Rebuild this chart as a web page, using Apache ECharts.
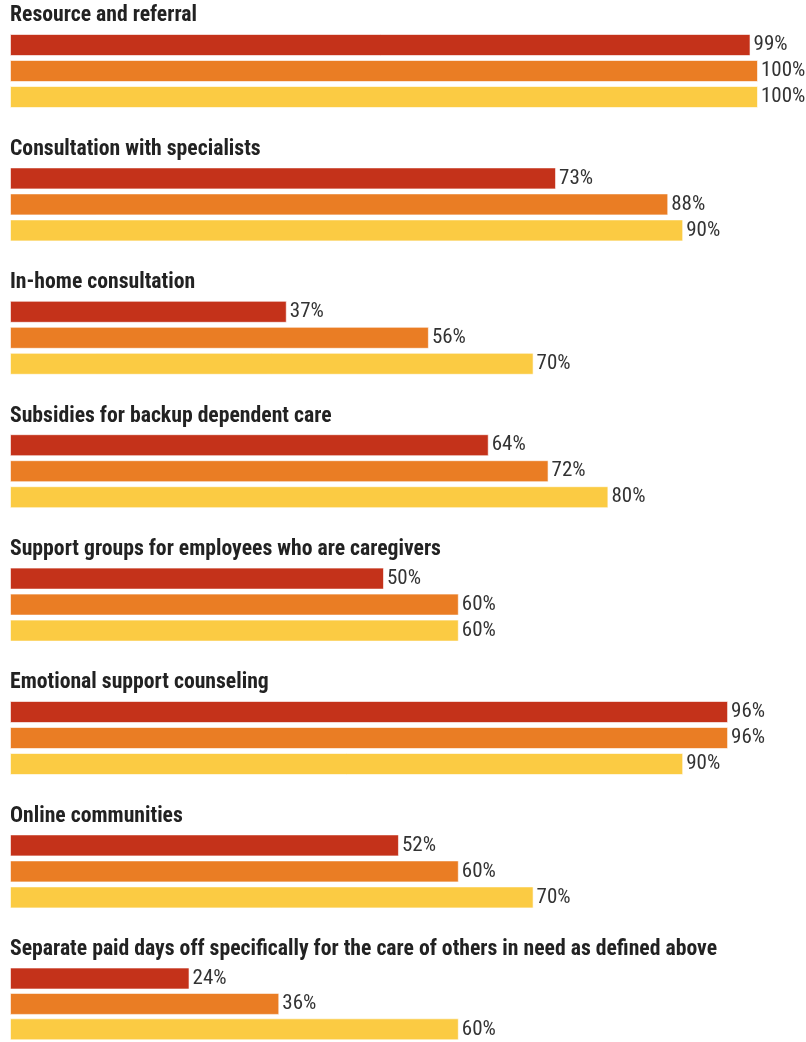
<!DOCTYPE html>
<html lang="en">
<head>
<meta charset="UTF-8">
<title>Caregiver benefits</title>
<style>
  html, body { margin: 0; padding: 0; background: #fff; }
  #main { width: 806px; height: 1042px; }
</style>
</head>
<body>
<div id="main"></div>
<script src="https://cdn.jsdelivr.net/npm/echarts@6/dist/echarts.min.js"></script>
<script>
var categories = [
  'Resource and referral',
  'Consultation with specialists',
  'In-home consultation',
  'Subsidies for backup dependent care',
  'Support groups for employees who are caregivers',
  'Emotional support counseling',
  'Online communities',
  'Separate paid days off specifically for the care of others in need as defined above'
];
// three bars per category (red, orange, yellow)
var redValues = [99, 73, 37, 64, 50, 96, 52, 24];
var orangeValues = [100, 88, 56, 72, 60, 96, 60, 36];
var yellowValues = [100, 90, 70, 80, 60, 90, 70, 60];
var barColors = ['#c4321a', '#ea7d24', '#fbcb43'];

var font = '"Roboto Condensed", "Liberation Sans Narrow", Roboto, sans-serif';
var myChart = echarts.init(document.getElementById('main'));

var step = 133.4;
var titles = [], grids = [], xAxes = [], yAxes = [], series = [];
for (var i = 0; i < categories.length; i++) {
  titles.push({
    text: categories[i],
    left: 10,
    top: 5 + i * step,
    padding: 0,
    textStyle: { fontFamily: font, fontWeight: 'bold', fontSize: 21.7, color: '#222' }
  });
  grids.push({ left: 10, width: 748, top: 32 + i * step, height: 78 });
  xAxes.push({ gridIndex: i, type: 'value', min: 0, max: 100, show: false });
  yAxes.push({ gridIndex: i, type: 'category', inverse: true, data: ['a', 'b', 'c'], show: false });
  series.push({
    type: 'bar',
    xAxisIndex: i,
    yAxisIndex: i,
    barWidth: 22,
    animation: false,
    data: [redValues[i], orangeValues[i], yellowValues[i]].map(function (v, k) {
      return { value: v, itemStyle: { color: barColors[k] } };
    }),
    itemStyle: { borderColor: 'rgba(255,255,255,0.6)', borderWidth: 1 },
    label: {
      show: true,
      position: 'right',
      distance: 3,
      formatter: '{c}%',
      fontFamily: font,
      fontSize: 21,
      color: '#333'
    }
  });
}

myChart.setOption({
  title: titles,
  grid: grids,
  xAxis: xAxes,
  yAxis: yAxes,
  series: series
});
</script>
</body>
</html>
